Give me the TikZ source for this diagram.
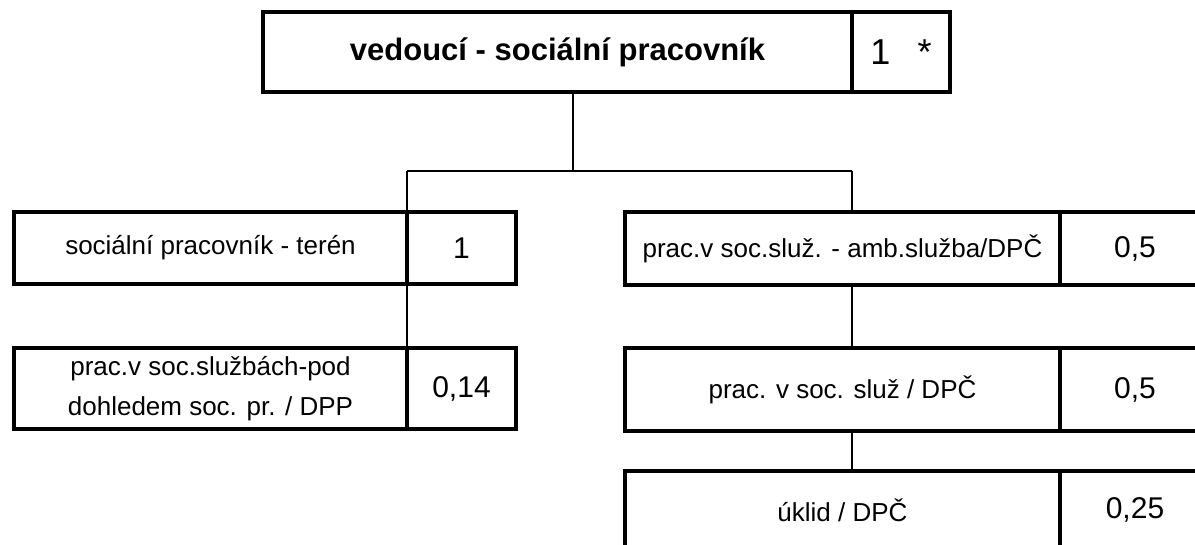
\documentclass[tikz,border=0pt]{standalone}
\usepackage{fontspec}
\setmainfont{Liberation Sans}
\begin{document}
\begin{tikzpicture}[x=1pt,y=-1pt,
  box/.style={draw=black, line width=3.3pt, inner sep=0pt, outer sep=0pt, anchor=center, align=center},
  lbl/.style={box, font=\fontsize{26}{40}\selectfont},
  num/.style={box, font=\fontsize{30}{34}\selectfont},
  conn/.style={draw=black, line width=1.6pt}]
\useasboundingbox (0,0) rectangle (1195,545);
\clip (0,0) rectangle (1195,545);
% top
\node[box, font=\fontsize{31}{36}\selectfont\bfseries, minimum width=589pt, minimum height=80pt] (top) at (557.5,52) {vedoucí - sociální pracovník};
\node[box, font=\fontsize{36}{40}\selectfont, minimum width=98pt, minimum height=80pt] (topv) at (901,52) {1\hspace{0.75em}*};
% left column
\node[lbl, minimum width=393pt, minimum height=72pt] (l1) at (210.5,248) {sociální pracovník - terén};
\node[num, minimum width=109pt, minimum height=72pt] (l1v) at (461.5,248) {1};
\node[lbl, minimum width=393pt, minimum height=81pt] (l2) at (210.5,388.5) {prac.v soc.službách-pod\\dohledem soc. pr. / DPP};
\node[num, minimum width=109pt, minimum height=81pt] (l2v) at (461.5,388.5) {0,14};
% right column
\node[lbl, minimum width=435pt, minimum height=73pt] (r1) at (842.5,248.5) {prac.v soc.služ. - amb.služba/DPČ};
\node[num, minimum width=150pt, minimum height=73pt] (r1v) at (1135,248.5) {0,5};
\node[lbl, minimum width=435pt, minimum height=83pt] (r2) at (842.5,389.5) {prac. v soc. služ / DPČ};
\node[num, minimum width=150pt, minimum height=83pt] (r2v) at (1135,389.5) {0,5};
\node[lbl, minimum width=435pt, minimum height=78pt] (r3) at (842.5,510) {úklid / DPČ};
\node[num, minimum width=150pt, minimum height=78pt] (r3v) at (1135,510) {0,25};
% connectors
\coordinate (j) at (573,171);
\coordinate (jl) at (407,171);
\coordinate (jr) at (852,171);
\draw[conn] (top.south -| j) -- (j);
\draw[conn] (jl) -- (jr);
\draw[conn] (jl) -- (l1.north east);
\draw[conn] (l1.south east) -- (l2.north east);
\draw[conn] (jr) -- (r1.north -| jr);
\draw[conn] (r1.south -| jr) -- (r2.north -| jr);
\draw[conn] (r2.south -| jr) -- (r3.north -| jr);
\end{tikzpicture}
\end{document}
